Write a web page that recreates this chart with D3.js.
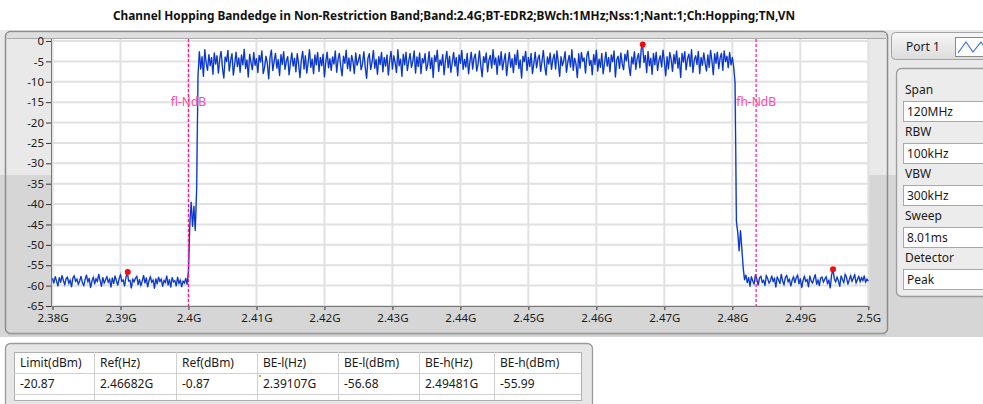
<!DOCTYPE html>
<html>
<head>
<meta charset="utf-8">
<script src="https://cdn.jsdelivr.net/npm/d3@7"></script>
<style>
  html, body { margin: 0; padding: 0; background: #ffffff; }
  svg { display: block; }
  text { font-family: "Noto Sans", "DejaVu Sans", sans-serif; }
</style>
</head>
<body>
<svg id="chart" width="983" height="404"></svg>
<script>
// ---- sweep description -------------------------------------------------
const chartTitle = "Channel Hopping Bandedge in Non-Restriction Band;Band:2.4G;BT-EDR2;BWch:1MHz;Nss:1;Nant:1;Ch:Hopping;TN,VN";
const sweepStartHz = 2.38e9;
const sweepStepHz = 0.2e6;

// trace levels (dBm), one per sweep point, in frequency order
const lowFloor = [
  -58.2,-59.4,-57.8,-58.9,-60.1,-58.0,-59.2,-57.5,-58.7,-59.8,-58.3,-57.9,-59.5,-58.6,-60.3,-58.1,-57.6,-59.0,-58.4,-59.7,
  -58.8,-57.7,-59.3,-60.0,-58.5,-57.4,-59.1,-58.2,-60.5,-58.9,-57.9,-59.6,-58.3,-59.0,-57.2,-58.7,-60.2,-58.0,-59.4,-58.6,
  -57.8,-59.2,-58.4,-60.4,-58.1,-59.5,-57.6,-58.8,-59.9,-58.3,-57.3,-59.0,-58.6,-60.1,-58.0,-56.7,-58.9,-58.7,-60.6,-58.4,
  -59.1,-58.2,-57.7,-59.8,-58.5,-60.0,-58.9,-57.5,-59.4,-58.1,-60.3,-58.8,-57.8,-59.2,-58.6,-60.7,-58.3,-59.6,-57.9,-59.0,
  -58.4,-60.2,-58.7,-59.3,-57.6,-59.9,-58.5,-60.4,-58.0,-59.1,-58.8,-60.1,-57.9,-59.5,-58.6,-60.3,-58.9,-59.4,-58.2,-59.7
];
const lowerEdge = [-56.5,-45.0,-39.5,-45.5,-40.5,-46.5,-36.5,-8.7];
const inBand = [
  -2.6,-6.9,-3.8,-8.7,-2.1,-5.4,-7.2,-3.3,-6.1,-4.0,-8.2,-2.9,-5.7,-3.6,-7.9,-4.4,-2.5,-6.6,-9.1,-3.9,
  -5.1,-2.3,-7.4,-4.8,-3.1,-8.4,-5.6,-2.7,-6.3,-4.1,-7.7,-3.4,-5.9,-2.0,-6.8,-4.6,-8.9,-3.2,-5.3,-7.1,
  -2.8,-6.0,-4.3,-7.8,-3.5,-5.2,-2.4,-8.0,-6.4,-3.7,-5.5,-9.3,-4.0,-2.2,-7.3,-5.0,-3.0,-6.7,-4.5,-8.5,
  -3.3,-5.8,-2.6,-7.0,-4.9,-3.8,-8.3,-5.4,-2.9,-6.2,-4.2,-7.6,-3.1,-5.6,-9.0,-4.7,-2.5,-6.9,-3.6,-7.9,
  -5.3,-2.1,-6.5,-4.4,-8.1,-3.4,-5.9,-2.8,-7.5,-4.0,-6.1,-3.2,-8.8,-5.1,-2.7,-6.6,-4.3,-7.2,-3.9,-5.7,
  -2.4,-7.7,-4.6,-3.0,-6.3,-8.6,-3.7,-5.5,-2.2,-6.8,-4.1,-7.4,-3.5,-5.0,-8.0,-2.9,-6.0,-4.8,-3.3,-7.1,
  -5.6,-2.6,-6.4,-9.2,-4.2,-3.1,-7.0,-5.2,-2.3,-6.7,-4.5,-8.2,-3.8,-5.8,-2.8,-7.6,-4.0,-6.2,-3.4,-8.4,
  -4.7,-2.5,-6.9,-3.6,-5.3,-7.8,-2.1,-6.1,-4.4,-8.7,-3.2,-5.9,-2.7,-7.3,-4.9,-3.0,-6.5,-5.0,-2.4,-7.9,
  -3.9,-6.3,-2.9,-8.0,-4.3,-5.4,-3.1,-7.2,-5.7,-2.6,-6.8,-4.1,-9.0,-3.5,-5.1,-2.2,-7.5,-4.6,-6.0,-3.3,
  -8.3,-4.8,-2.5,-6.6,-3.7,-7.7,-5.2,-2.8,-6.2,-4.0,-8.6,-3.4,-5.5,-2.3,-7.0,-4.5,-6.4,-3.0,-8.1,-5.0,
  -2.7,-6.9,-4.2,-3.2,-7.4,-5.6,-2.4,-6.1,-8.8,-3.8,-5.3,-2.9,-7.6,-4.7,-3.5,-6.7,-2.1,-5.8,-4.1,-8.2,
  -3.6,-6.0,-2.6,-7.1,-4.9,-3.1,-8.5,-5.4,-2.8,-6.5,-4.3,-7.8,-3.3,-5.9,-2.2,-6.8,-4.6,-9.1,-3.7,-5.1,
  -2.5,-7.3,-4.0,-6.3,-3.0,-8.0,-5.5,-2.7,-6.6,-4.4,-3.4,-7.5,-5.0,-2.3,-6.2,-8.4,-3.9,-5.7,-2.9,-7.0,
  -4.5,-3.2,-6.9,-2.4,-5.3,-8.7,-3.8,-6.1,-4.8,-2.6,-7.7,-5.2,-3.5,-6.4,-2.1,-7.2,-4.2,-5.6,-9.0,-3.1,
  -6.7,-2.8,-5.0,-4.1,-7.9,-3.6,-2.5,-6.0,-4.7,-8.3,-3.3,-5.8,-2.2,-7.4,-4.4,-6.5,-3.0,-8.1,-5.4,-2.7,
  -6.2,-4.0,-7.6,-3.4,-5.1,-2.4,-8.9,-4.6,-3.7,-6.8,-2.9,-5.5,-7.1,-3.2,-4.9,-2.3,-6.3,-8.5,-3.9,-5.7,
  -2.6,-7.0,-4.3,-3.1,-6.6,-2.0,-0.9,-5.3,-3.5,-7.8,-2.5,-6.1,-4.2,-8.2,-3.0,-5.9,-2.7,-7.3,-4.8,-3.6,
  -6.4,-2.2,-5.0,-8.6,-3.8,-6.9,-2.8,-4.5,-7.5,-3.3,-5.6,-2.4,-6.7,-4.1,-9.0,-3.0,-5.2,-2.6,-7.1,-4.4,
  -3.2,-6.3,-2.1,-7.7,-4.7,-3.6,-5.8,-2.5,-8.0,-4.0,-6.0,-2.9,-5.4,-7.4,-3.4,-6.5,-2.3,-4.9,-8.3,-3.1,
  -5.5,-2.7,-6.8,-4.2,-3.0,-7.2,-2.4,-5.1,-3.7,-6.6,-2.8,-5.9,-4.0,-6.4
];
const upperEdge = [-10.3,-44.3,-47.0,-51.5,-46.5,-51.0,-55.7];
const highFloor = [
  -58.6,-57.4,-59.3,-58.0,-60.2,-57.8,-58.9,-59.6,-57.3,-58.4,-59.9,-58.1,-57.7,-59.2,-58.7,-60.0,-57.5,-58.3,-59.4,-58.8,
  -57.6,-59.0,-58.2,-60.4,-57.9,-58.6,-59.5,-57.2,-58.9,-59.8,-58.0,-57.5,-59.1,-58.4,-60.1,-58.7,-57.8,-59.3,-58.1,-57.4,
  -59.6,-58.3,-60.5,-58.8,-57.7,-59.0,-58.5,-60.3,-57.6,-58.9,-59.4,-58.2,-57.3,-59.7,-58.6,-60.0,-58.1,-57.9,-59.2,-58.4,
  -57.8,-59.5,-58.7,-60.6,-57.4,-56.0,-58.3,-59.1,-57.9,-58.8,-60.2,-57.6,-58.5,-59.3,-57.2,-58.0,-59.7,-58.6,-57.5,-59.0,
  -58.2,-57.3,-59.4,-58.5,-57.7,-59.1,-58.0,-58.8,-57.6,-59.2,-58.4,-58.9
];

// markers: reference peak, lower band edge, upper band edge
const markerHz  = [2.46682e9, 2.39107e9, 2.49481e9];
const markerDbm = [-0.87, -56.68, -55.99];

// 20 dB bandwidth cursors
const cursorHz = [2.4000e9, 2.4835e9];
const cursorNames = ["fl-NdB", "fh-NdB"];

// axis ticks
const xTickHz = [2.38e9,2.39e9,2.40e9,2.41e9,2.42e9,2.43e9,2.44e9,2.45e9,2.46e9,2.47e9,2.48e9,2.49e9,2.50e9];
const xTickLabels = ["2.38G","2.39G","2.4G","2.41G","2.42G","2.43G","2.44G","2.45G","2.46G","2.47G","2.48G","2.49G","2.5G"];
const yTickDbm = [0,-5,-10,-15,-20,-25,-30,-35,-40,-45,-50,-55,-60,-65];

// analyzer settings
const settingNames  = ["Span","RBW","VBW","Sweep","Detector"];
const settingValues = ["120MHz","100kHz","300kHz","8.01ms","Peak"];

// result table
const resultHeads  = ["Limit(dBm)","Ref(Hz)","Ref(dBm)","BE-l(Hz)","BE-l(dBm)","BE-h(Hz)","BE-h(dBm)"];
const resultValues = ["-20.87","2.46682G","-0.87","2.39107G","-56.68","2.49481G","-55.99"];

// ---- drawing -----------------------------------------------------------
const svg = d3.select("#chart");
const W = 983, H = 404;
const plot = { left: 51, right: 869, top: 39, bottom: 306 };

const x = d3.scaleLinear().domain([2.38e9, 2.5e9]).range([52.5, 868.3]);
const y = d3.scaleLinear().domain([0, -65]).range([41, 306]);

const defs = svg.append("defs");
defs.append("clipPath").attr("id", "plotClip")
  .append("rect").attr("x", plot.left).attr("y", plot.top)
  .attr("width", plot.right - plot.left).attr("height", plot.bottom - plot.top);

const tabGrad = defs.append("linearGradient").attr("id", "tabGrad").attr("x1", 0).attr("x2", 0).attr("y1", 0).attr("y2", 1);
tabGrad.append("stop").attr("offset", 0).attr("stop-color", "#f7f7f7");
tabGrad.append("stop").attr("offset", 1).attr("stop-color", "#dcdcdc");

// window background (two-tone LabVIEW style)
svg.append("rect").attr("x", 0).attr("y", 0).attr("width", W).attr("height", H).attr("fill", "#ffffff");
svg.append("rect").attr("x", 0).attr("y", 30).attr("width", W).attr("height", 145).attr("fill", "#e9e9e9");
svg.append("rect").attr("x", 0).attr("y", 175).attr("width", W).attr("height", 162).attr("fill", "#d6d6d6");

// title
svg.append("text")
  .attr("x", 113).attr("y", 20)
  .attr("textLength", 682).attr("lengthAdjust", "spacingAndGlyphs")
  .attr("font-size", 11.5).attr("font-weight", "bold").attr("fill", "#111")
  .text(chartTitle);

// chart panel
const panel = svg.append("g");
panel.append("rect").attr("x", 5.5).attr("y", 31.5).attr("width", 882).attr("height", 302).attr("rx", 5)
  .attr("fill", "none").attr("stroke", "#8c8c8c").attr("stroke-width", 1.5);
panel.append("line").attr("x1", 8).attr("x2", 886).attr("y1", 334.5).attr("y2", 334.5)
  .attr("stroke", "#bdbdbd").attr("stroke-width", 1.5);
panel.append("rect").attr("x", 7).attr("y", 33).attr("width", 879).attr("height", 5).attr("fill", "#dedede");
panel.append("line").attr("x1", 7).attr("x2", 886).attr("y1", 38.5).attr("y2", 38.5)
  .attr("stroke", "#a9a9a9").attr("stroke-width", 1.2);

// plot area
panel.append("rect").attr("x", plot.left).attr("y", plot.top)
  .attr("width", plot.right - plot.left).attr("height", plot.bottom - plot.top).attr("fill", "#ffffff");

// grid
const grid = panel.append("g").attr("stroke", "#e1e1e1").attr("stroke-width", 2);
grid.selectAll("line.v").data(xTickHz).join("line").attr("class", "v")
  .attr("x1", d => x(d)).attr("x2", d => x(d)).attr("y1", plot.top).attr("y2", plot.bottom);
grid.selectAll("line.h").data(yTickDbm).join("line").attr("class", "h")
  .attr("x1", plot.left).attr("x2", plot.right).attr("y1", d => y(d)).attr("y2", d => y(d));

// axes
const yAxis = d3.axisLeft(y).tickValues(yTickDbm).tickFormat(d => String(d)).tickSize(5).tickPadding(2);
const gy = panel.append("g").attr("transform", `translate(${plot.left},0)`).call(yAxis);
const xAxis = d3.axisBottom(x).tickValues(xTickHz).tickFormat((d, i) => xTickLabels[i]).tickSize(4).tickPadding(4);
const gx = panel.append("g").attr("transform", `translate(0,${plot.bottom})`).call(xAxis);
[gx, gy].forEach(g => {
  g.select(".domain").remove();
  g.selectAll("line").attr("stroke", "#333");
  g.selectAll("text").attr("fill", "#1c1c1c").attr("font-size", 11.5)
    .attr("font-family", "'Noto Sans', 'DejaVu Sans', sans-serif");
});
panel.append("line").attr("x1", plot.left + 0.5).attr("x2", plot.left + 0.5).attr("y1", plot.top).attr("y2", plot.bottom)
  .attr("stroke", "#777");
panel.append("line").attr("x1", plot.left).attr("x2", plot.right).attr("y1", plot.bottom + 0.5).attr("y2", plot.bottom + 0.5)
  .attr("stroke", "#777");

// trace
const levels = lowFloor.concat(lowerEdge, inBand, upperEdge, highFloor);
const trace = levels.map((v, i) => [sweepStartHz + i * sweepStepHz, v]);
const line = d3.line().x(d => x(d[0])).y(d => y(d[1]));
const traceG = panel.append("g").attr("clip-path", "url(#plotClip)");
traceG.append("path").datum(trace).attr("d", line)
  .attr("fill", "none").attr("stroke", "#5a7be0").attr("stroke-width", 1.6).attr("opacity", 0.6);
traceG.append("path").datum(trace).attr("d", line)
  .attr("fill", "none").attr("stroke", "#0634c8").attr("stroke-width", 1.1).attr("stroke-linejoin", "round");

// cursors
const cur = panel.append("g");
cur.selectAll("line").data(cursorHz).join("line")
  .attr("x1", d => x(d)).attr("x2", d => x(d)).attr("y1", plot.top).attr("y2", plot.bottom)
  .attr("stroke", "#ff1493").attr("stroke-width", 1.2).attr("stroke-dasharray", "3,2");
cur.selectAll("text").data(cursorHz).join("text")
  .attr("x", d => x(d)).attr("y", 106).attr("text-anchor", "middle")
  .attr("font-size", 12).attr("fill", "#ff4aa5")
  .text((d, i) => cursorNames[i]);

// markers
panel.append("g").selectAll("circle").data(markerHz).join("circle")
  .attr("cx", d => x(d)).attr("cy", (d, i) => y(markerDbm[i])).attr("r", 3)
  .attr("fill", "#f20d0d");

// ---- port tab and settings --------------------------------------------
const side = svg.append("g");
side.append("rect").attr("x", 891.5).attr("y", 32.5).attr("width", 100).attr("height", 27).attr("rx", 4)
  .attr("fill", "url(#tabGrad)").attr("stroke", "#a3a3a3");
side.append("text").attr("x", 906).attr("y", 51).attr("font-size", 12).attr("fill", "#1a1a1a").text("Port 1");
side.append("rect").attr("x", 955.5).attr("y", 37.5).attr("width", 40).attr("height", 19)
  .attr("fill", "#ffffff").attr("stroke", "#8a8a8a");
side.append("path").attr("d", d3.line()([[958, 53], [966, 42], [973, 52], [981, 42], [988, 52]]))
  .attr("fill", "none").attr("stroke", "#3a6fe0").attr("stroke-width", 1.1);

side.append("rect").attr("x", 896.5).attr("y", 68.5).attr("width", 100).attr("height", 228).attr("rx", 5)
  .attr("fill", "#ececec").attr("stroke", "#9c9c9c").attr("stroke-width", 1.3);
const rowY = d3.scaleLinear().domain([0, 1]).range([94, 136]);
settingNames.forEach((name, i) => {
  const base = rowY(i);
  side.append("text").attr("x", 905).attr("y", base).attr("font-size", 12).attr("fill", "#1a1a1a").text(name);
  side.append("rect").attr("x", 903.5).attr("y", base + 7.5).attr("width", 90).attr("height", 20)
    .attr("fill", "#ffffff").attr("stroke", "#a8a8a8");
  side.append("text").attr("x", 907).attr("y", base + 22).attr("font-size", 12).attr("fill", "#1a1a1a").text(settingValues[i]);
});

// ---- results table -----------------------------------------------------
const tbl = svg.append("g");
tbl.append("rect").attr("x", 5.5).attr("y", 343.5).attr("width", 587).attr("height", 70).attr("rx", 5)
  .attr("fill", "#e6e6e6").attr("stroke", "#9a9a9a").attr("stroke-width", 1.3);
const colEdges = [14, 94, 176, 257, 338, 419, 494, 581];
const tTop = 352, rowH = 21;
tbl.append("rect").attr("x", colEdges[0] + 0.5).attr("y", tTop + 0.5)
  .attr("width", colEdges[7] - colEdges[0]).attr("height", 48).attr("fill", "#ffffff").attr("stroke", "#b0b0b0");
[1, 2].forEach(r => tbl.append("line").attr("x1", colEdges[0]).attr("x2", colEdges[7])
  .attr("y1", tTop + r * rowH + 0.5).attr("y2", tTop + r * rowH + 0.5).attr("stroke", "#cfcfcf"));
colEdges.slice(1, -1).forEach(cx => tbl.append("line").attr("x1", cx + 0.5).attr("x2", cx + 0.5)
  .attr("y1", tTop).attr("y2", tTop + 48).attr("stroke", "#cfcfcf"));
resultHeads.forEach((h, i) => {
  tbl.append("text").attr("x", colEdges[i] + 6).attr("y", tTop + 15).attr("font-size", 12).attr("fill", "#1a1a1a").text(h);
  tbl.append("text").attr("x", colEdges[i] + 6).attr("y", tTop + rowH + 15).attr("font-size", 12).attr("fill", "#1a1a1a").text(resultValues[i]);
});
tbl.append("rect").attr("x", colEdges[3] + 2).attr("y", tTop + rowH + 2).attr("width", 2).attr("height", 2).attr("fill", "#f0a020");
</script>
</body>
</html>
